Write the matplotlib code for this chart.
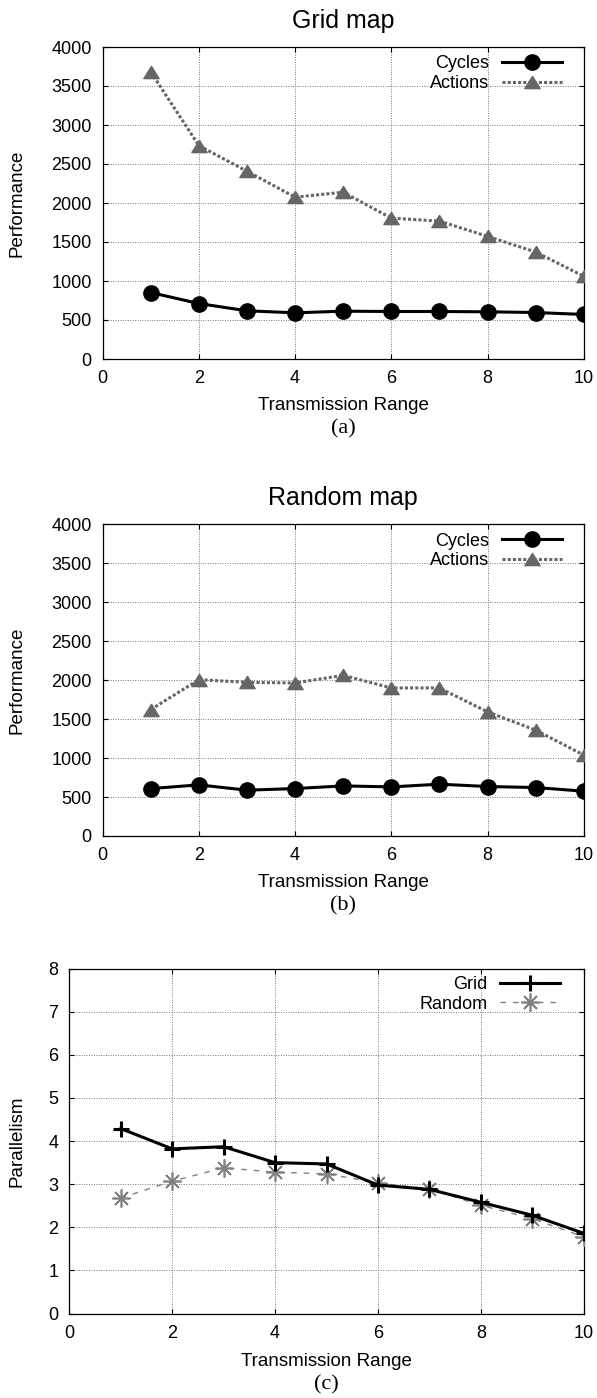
import matplotlib
matplotlib.use("Agg")
import matplotlib.pyplot as plt
from matplotlib.path import Path

plt.rcParams["font.family"] = "Liberation Sans"

W, H = 597, 1398
GRAY = "#666666"
GRAY2 = "#808080"

# transmission range
x = [1, 2, 3, 4, 5, 6, 7, 8, 9, 10]

# (a) grid map
grid_cycles = [852, 711, 618, 592, 613, 609, 609, 605, 596, 571]
grid_actions = [3680, 2735, 2407, 2075, 2138, 1806, 1768, 1572, 1372, 1061]
# (b) random map
random_cycles = [609, 656, 588, 609, 643, 630, 665, 635, 622, 575]
random_actions = [1623, 2006, 1972, 1964, 2062, 1900, 1900, 1593, 1359, 1039]
# (c) parallelism
par_grid = [4.29, 3.82, 3.87, 3.50, 3.47, 2.98, 2.88, 2.58, 2.28, 1.86]
par_random = [2.68, 3.07, 3.38, 3.28, 3.24, 3.03, 2.89, 2.51, 2.20, 1.78]

# gnuplot-like wide triangle
TRI = Path([(-1, -0.8), (1, -0.8), (0, 0.8), (-1, -0.8)],
           [Path.MOVETO, Path.LINETO, Path.LINETO, Path.CLOSEPOLY])


def px_rect(left, top, right, bottom):
    return [left / W, 1 - bottom / H, (right - left) / W, (bottom - top) / H]


def style_axes(ax, yticks):
    ax.set_xlim(0, 10)
    ax.set_xticks([0, 2, 4, 6, 8, 10])
    ax.set_ylim(yticks[0], yticks[-1])
    ax.set_yticks(yticks)
    ax.tick_params(direction="in", length=3.5, width=0.8, labelsize=13,
                   top=True, right=True, pad=8)
    ax.grid(True, color="#777777", linestyle=(0, (1, 1.5)), linewidth=0.7)
    for s in ax.spines.values():
        s.set_linewidth(0.9)
        s.set_color("black")


def ftext(xp, yp, s, **kw):
    fig.text(xp / W, 1 - yp / H, s, ha="center", va="center", **kw)


def add_legend(ax, ytop):
    ax.legend(loc="upper right", bbox_to_anchor=(0.954, ytop), frameon=False,
              markerfirst=False, handlelength=3.3, handletextpad=0.7,
              labelspacing=0.15, borderpad=0, borderaxespad=0, fontsize=13)


fig = plt.figure(figsize=(W / 100, H / 100), dpi=100)

panels = [
    (px_rect(102.7, 47, 583.7, 359), grid_cycles, grid_actions, "Grid map", "(a)", 21, 378),
    (px_rect(102.7, 524.3, 583.7, 836), random_cycles, random_actions, "Random map", "(b)", 498, 855),
]
for rect, cyc, act, title, tag, ty, tick_y in panels:
    ax = fig.add_axes(rect)
    style_axes(ax, list(range(0, 4001, 500)))
    ax.plot(x, cyc, color="black", linewidth=2.2, marker="o", markersize=11,
            label="Cycles", zorder=4)
    ax.plot(x, act, color=GRAY, linewidth=2.2, linestyle=(0, (1, 0.7)),
            marker=TRI, markersize=11, label="Actions", zorder=3)
    add_legend(ax, 0.973)
    ftext(343, ty, title, fontsize=18)
    ftext(343, tick_y + 28, "Transmission Range", fontsize=13.5)
    ftext(343, tick_y + 51, tag, fontsize=16, family="Liberation Serif")
    ftext(17, (rect[1] + rect[3] / 2) * -H + H, "Performance", fontsize=13.5,
          rotation=90)

# (c)
rect = px_rect(69.3, 968.7, 583.7, 1313.5)
ax = fig.add_axes(rect)
style_axes(ax, list(range(0, 9)))
ax.plot(x, par_grid, color="black", linewidth=2.2, marker="+", markersize=12,
        markeredgewidth=2.2, label="Grid", zorder=4)
ax.plot(x, par_random, color=GRAY2, linewidth=1.0, linestyle=(0, (4, 5)),
        marker=(8, 2, 0), markersize=13, markeredgewidth=1.2,
        label="Random", zorder=3)
add_legend(ax, 0.979)
ftext(326.5, 1361, "Transmission Range", fontsize=13.5)
ftext(326.5, 1385, "(c)", fontsize=16, family="Liberation Serif")
ftext(17, 1141, "Parallelism", fontsize=13.5, rotation=90)

fig.savefig("out.png", dpi=100)
